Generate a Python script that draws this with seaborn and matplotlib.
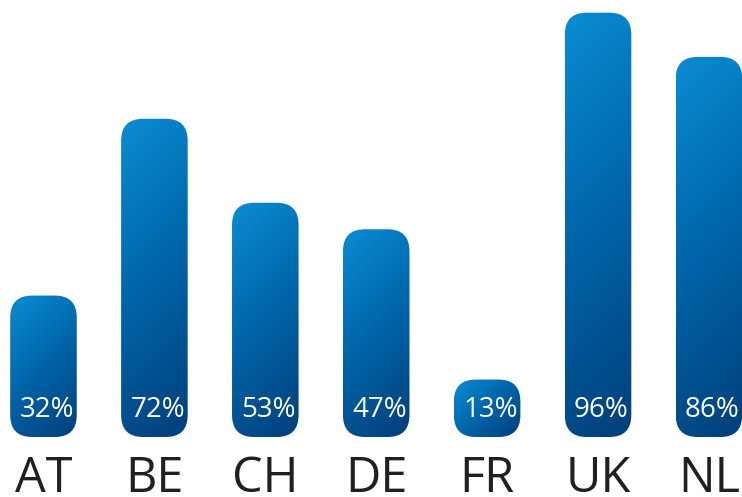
import numpy as np
import pandas as pd
import seaborn as sns
import matplotlib.pyplot as plt
from matplotlib.patches import FancyBboxPatch
from matplotlib.colors import LinearSegmentedColormap

countries = ['AT', 'BE', 'CH', 'DE', 'FR', 'UK', 'NL']
shares = [32, 72, 53, 47, 13, 96, 86]

df = pd.DataFrame({'country': countries, 'share': shares})

fig = plt.figure(figsize=(7.42, 4.97), dpi=100)
ax = fig.add_axes([0, 0, 1, 1])
sns.barplot(data=df, x='country', y='share', width=0.6, color='#0060a0', ax=ax)

xlim = (-0.392, 6.298)
ylim = (-13.57, 98.87)
px_x = 742 / (xlim[1] - xlim[0])
px_y = 497 / (ylim[1] - ylim[0])
r = 22 / px_x
aspect = px_x / px_y

cmap = LinearSegmentedColormap.from_list('bar', ['#0a8cd3', '#0064a8', '#003f7a'])

for bar in list(ax.patches):
    x, y = bar.get_x(), bar.get_y()
    w, h = bar.get_width(), bar.get_height()
    bar.remove()
    box = FancyBboxPatch((x, y), w, h, boxstyle=f'round,pad=0,rounding_size={r}',
                         mutation_aspect=aspect, fc='none', ec='none')
    ax.add_patch(box)
    # diagonal gradient, light top-left to dark bottom-right
    wp, hp = w * px_x, h * px_y
    U, V = np.meshgrid(np.linspace(0, 1, 100), np.linspace(0, 1, 300))
    grad = (U * wp + V * hp) / (wp + hp)
    im = ax.imshow(grad, cmap=cmap, extent=(x, x + w, y, y + h), origin='upper',
                   aspect='auto', vmin=0, vmax=1, interpolation='bilinear')
    im.set_clip_path(box)

for i, (label, val) in enumerate(zip(countries, shares)):
    ax.text(i + 0.03, 4.5, f'{val}%', ha='center', va='baseline', color='white',
            fontsize=20, family='Open Sans')
    ax.text(i, -12.5, label, ha='center', va='baseline', color='#231f20',
            fontsize=35, family='Open Sans')

ax.set_xlim(*xlim)
ax.set_ylim(*ylim)
ax.axis('off')

fig.savefig('out.png', dpi=100)
